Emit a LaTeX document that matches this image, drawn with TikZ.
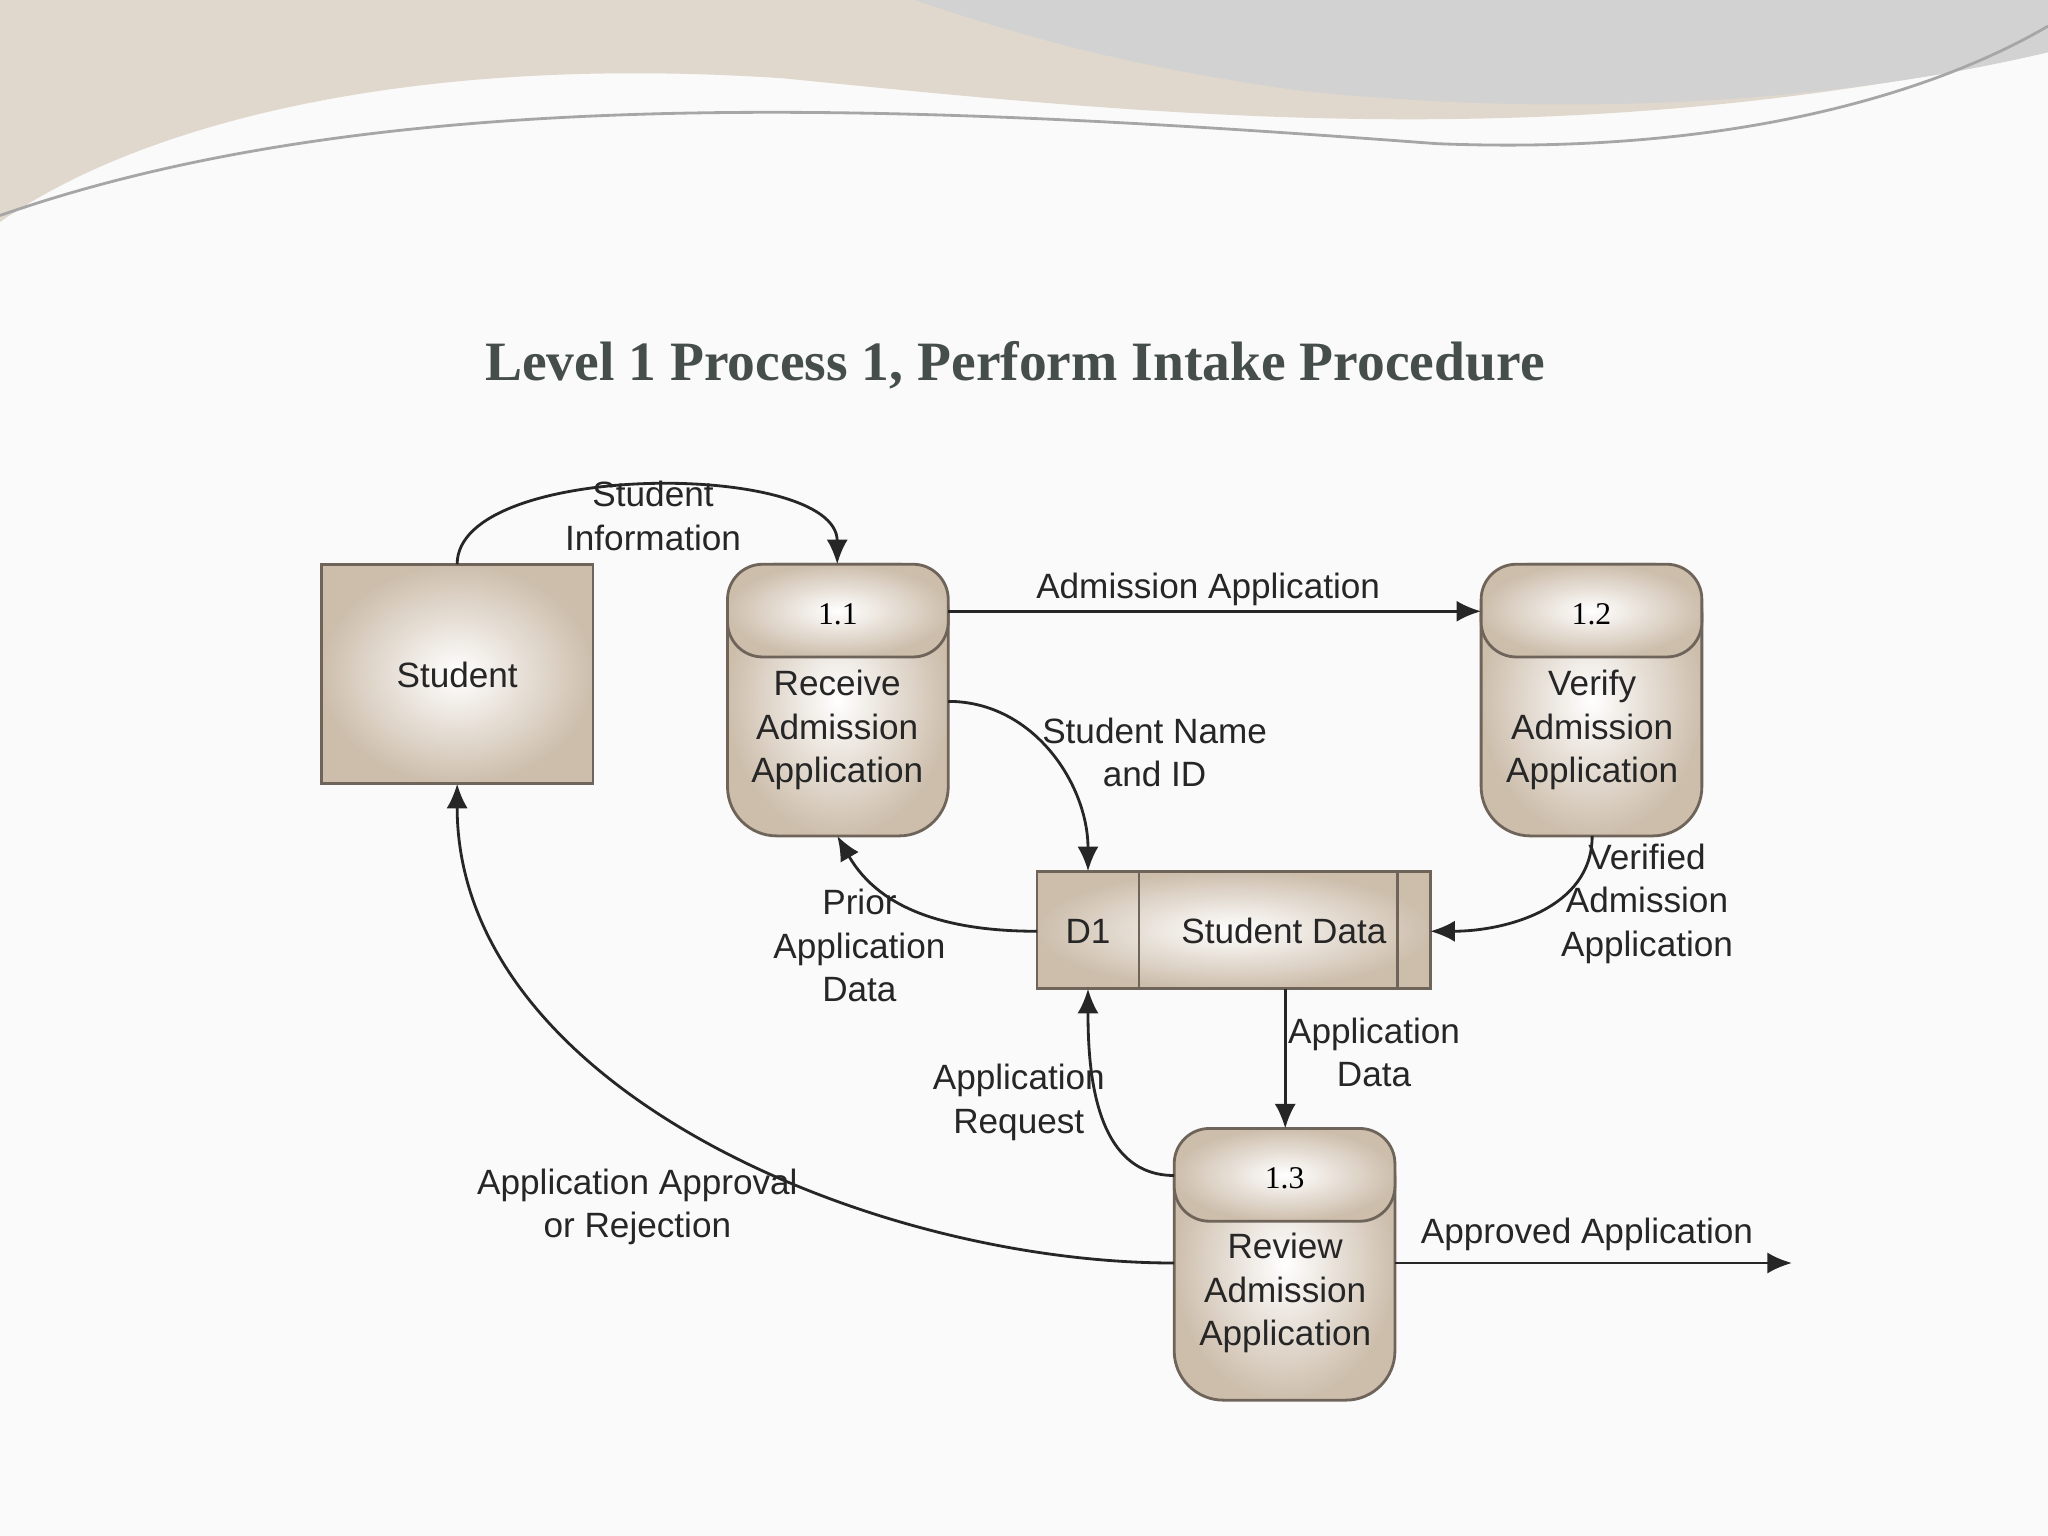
\documentclass[tikz,border=0pt]{standalone}
\usepackage{fontspec}
\setmainfont{Liberation Sans}
\newfontfamily\titlefont{Liberation Serif}
\usetikzlibrary{arrows.meta,positioning}
\definecolor{tan}{RGB}{205,190,172}
\definecolor{edge}{RGB}{110,100,90}
\definecolor{titlecol}{RGB}{70,78,75}
\tikzset{
  box/.style={draw=edge,line width=0.8pt,inner color=white,outer color=tan},
  lbl/.style={font=\fontsize{10}{12.3}\selectfont,align=center,text=black!85},
  flow/.style={-{Latex[length=7pt,width=6pt]},line width=0.8pt,black!85}
}
\begin{document}
\begin{tikzpicture}[x=0.01306cm,y=-0.01306cm]
  \useasboundingbox (0,0) rectangle (1568,1176);
  \fill[white!96!gray] (0,0) rectangle (1568,1176);
  % top swoosh
  \fill[tan!60!white] (0,0) -- (1568,0) -- (1568,40) .. controls (1200,120) and (900,90) .. (600,60) .. controls (300,40) and (100,100) .. (0,170) -- cycle;
  \fill[gray!35] (700,0) -- (1568,0) -- (1568,40) .. controls (1400,80) and (1200,90) .. (1000,70) .. controls (850,50) and (760,20) .. (700,0) -- cycle;
  \draw[gray!70,line width=0.8pt] (0,165) .. controls (300,60) and (700,80) .. (1100,110) .. controls (1350,120) and (1500,60) .. (1568,20);
  % title
  \node[font=\titlefont\bfseries\fontsize{15.8}{19}\selectfont,text=titlecol] (title) at (777,280) {Level 1 Process 1, Perform Intake Procedure};
  % external entity
  \draw[box] (246,432) rectangle (454,600);
  \node[lbl] (student) at (350,517) {Student};
  \coordinate (studtop) at (350,432);
  \coordinate (studbot) at (350,600);
  % processes
  \foreach \n/\x/\y/\num in {p1/557/432/1.1, p2/1134/432/1.2, p3/899/864/1.3}{
    \draw[box,rounded corners=14pt] (\x,\y) rectangle ++(169,208);
    \draw[box,rounded corners=10pt] (\x,\y) rectangle ++(169,71);
    \node[font=\titlefont\fontsize{9}{11}\selectfont] (\n num) at (\x+84.5,\y+38) {\num};
    \coordinate (\n) at (\x,\y);
  }
  \node[lbl] (p1txt) at (641,559) {Receive\\Admission\\Application};
  \node[lbl] (p2txt) at (1219,559) {Verify\\Admission\\Application};
  \node[lbl] (p3txt) at (984,990) {Review\\Admission\\Application};
  % data store
  \draw[box] (794,667) rectangle (1095,757);
  \draw[edge,line width=0.8pt] (872,667) -- (872,757) (1070,667) -- (1070,757);
  \node[lbl] (d1) at (833,713) {D1};
  \node[lbl] (store) at (983,713) {Student Data};
  % anchors
  \coordinate (p1top) at (641,432);
  \coordinate (p1right) at (726,468);
  \coordinate (p1side) at (726,537);
  \coordinate (p1bot) at (641,640);
  \coordinate (p2left) at (1134,468);
  \coordinate (p2bot) at (1219,640);
  \coordinate (p3top) at (984,864);
  \coordinate (p3left) at (899,900);
  \coordinate (p3side) at (899,967);
  \coordinate (p3right) at (1068,967);
  \coordinate (dtop) at (833,667);
  \coordinate (dleft) at (794,713);
  \coordinate (dright) at (1095,713);
  \coordinate (dbot) at (833,757);
  \coordinate (dbot2) at (984,757);
  \coordinate (out) at (1372,967);
  % flows
  \draw[flow] (studtop) to[out=90,in=90,looseness=0.7] (p1top);
  \draw[flow] (p1right) -- (p2left);
  \draw[flow] (p1side) to[out=0,in=90] (dtop);
  \draw[flow] (dleft) to[out=180,in=-60] (p1bot);
  \draw[flow] (p2bot) to[out=-90,in=0] (dright);
  \draw[flow] (dbot2) -- (p3top);
  \draw[flow] (p3left) to[out=180,in=-90] (dbot);
  \draw[flow] (p3side) to[out=180,in=-90,looseness=0.9] (studbot);
  \draw[flow] (p3right) -- (out);
  % flow labels
  \node[lbl] (l1) at (500,395) {Student\\Information};
  \node[lbl] (l2) at (925,451) {Admission Application};
  \node[lbl] (l3) at (884,576) {Student Name\\and ID};
  \node[lbl] (l4) at (658,724) {Prior\\Application\\Data};
  \node[lbl] (l5) at (1261,692) {Verified\\Admission\\Application};
  \node[lbl] (l6) at (1052,806) {Application\\Data};
  \node[lbl] (l7) at (780,844) {Application\\Request};
  \node[lbl] (l8) at (488,924) {Application Approval\\or Rejection};
  \node[lbl] (l9) at (1215,945) {Approved Application};
\end{tikzpicture}
\end{document}
